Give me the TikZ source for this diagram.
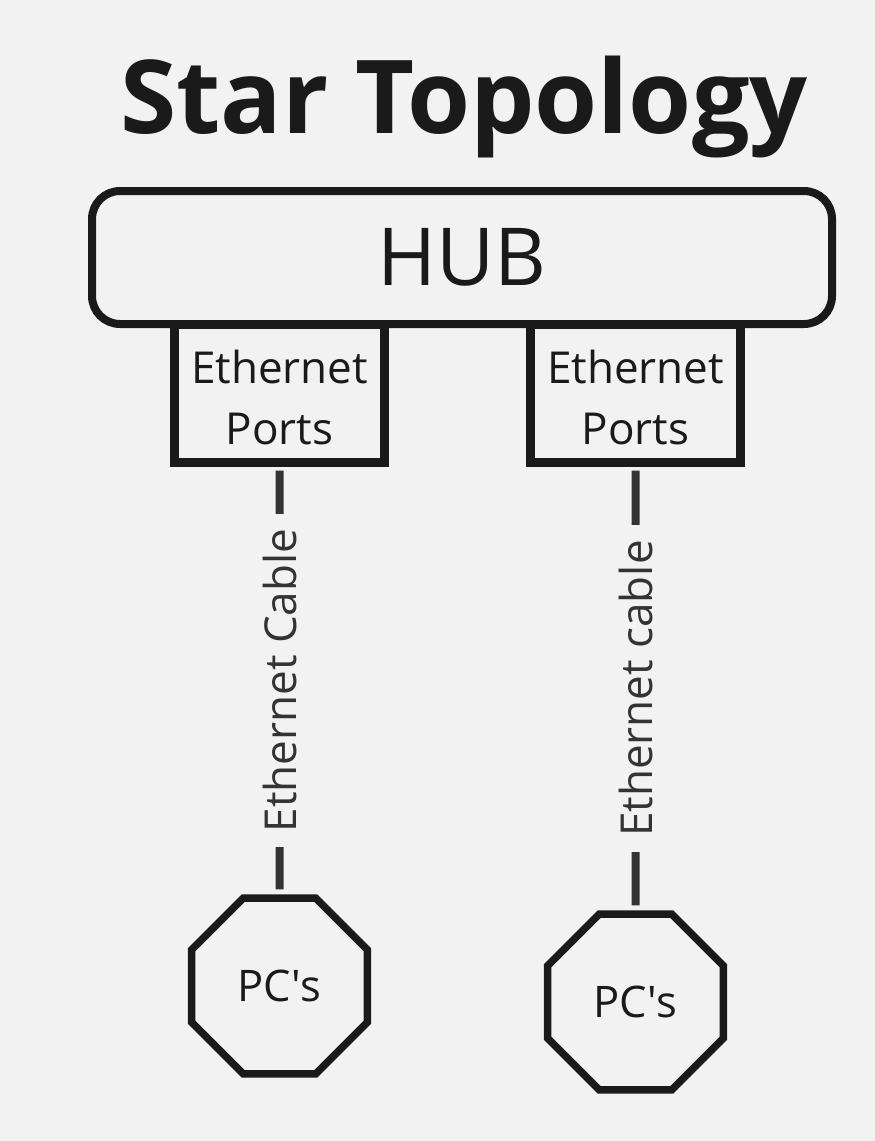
\documentclass[tikz,border=0pt]{standalone}
\usepackage{fontspec}
\setmainfont{Open Sans}
\usetikzlibrary{shapes.geometric}
\definecolor{bg}{HTML}{F2F2F2}
\definecolor{ink}{HTML}{1A1A1A}
\definecolor{cablegray}{HTML}{333333}

\newcommand{\porttext}{\rule{0pt}{41pt}Ethernet\\Ports}

\tikzset{
  hubbox/.style={draw=ink, line width=8pt, rounded corners=28pt, minimum width=740pt, minimum height=133pt, inner sep=0pt, text=ink, font=\fontsize{80}{90}\selectfont},
  portbox/.style={draw=ink, line width=8.5pt, minimum width=210pt, minimum height=138pt, inner sep=0pt, align=center, text=ink, font=\fontsize{44}{61}\selectfont},
  pcnode/.style={draw=ink, line width=7.5pt, regular polygon, regular polygon sides=8, minimum size=190pt, inner sep=0pt, text=ink, font=\fontsize{43.5}{50}\selectfont},
  cableline/.style={draw=cablegray, line width=8pt, shorten <=4pt, shorten >=5pt},
  cablelabel/.style={midway, fill=bg, rotate=90, text=cablegray, inner xsep=15pt, inner ysep=0pt, font=\fontsize{44}{50}\selectfont}
}

\begin{document}
\begin{tikzpicture}[x=1pt, y=-1pt]
  \fill[bg] (0,0) rectangle (875,1141);
  \useasboundingbox (0,0) rectangle (875,1141);

  % title and hub
  \node[anchor=base, text=ink, font=\fontsize{102}{110}\selectfont\bfseries] (title) at (464,133) {Star Topology};
  \node[hubbox] (hub) at (462,257.5) {HUB};

  % ports under the hub
  \node[portbox] (port1) at (279.5,393.25) {\porttext};
  \node[portbox] (port2) at (635.5,393.25) {\porttext};

  % computers
  \node[pcnode] (pc1) at (279.5,986) {PC\textquotesingle s};
  \node[pcnode] (pc2) at (635.5,1002) {PC\textquotesingle s};

  % cables
  \draw[cableline] (port1.south) -- node[cablelabel]{Ethernet Cable} (pc1.north);
  \draw[cableline] (port2.south) -- node[cablelabel]{Ethernet cable} (pc2.north);
\end{tikzpicture}
\end{document}
